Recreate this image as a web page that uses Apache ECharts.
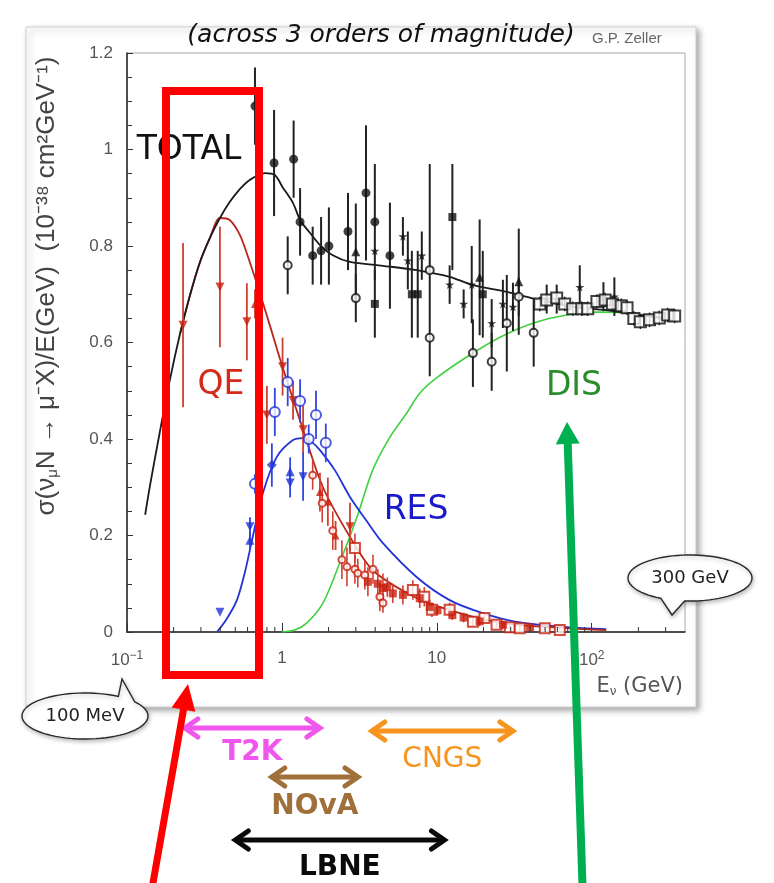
<!DOCTYPE html>
<html>
<head>
<meta charset="utf-8">
<script src="https://cdn.jsdelivr.net/npm/echarts@6/dist/echarts.min.js"></script>
<style>
  html, body { margin: 0; padding: 0; background: #ffffff; }
  #chart { width: 774px; height: 883px; }
</style>
</head>
<body>
<div id="chart"></div>
<script>
// ---- Model curves: neutrino energy E (GeV) and sigma/E (1e-38 cm^2/GeV) ----
const totalE = [0.131, 0.141, 0.163, 0.189, 0.22, 0.255, 0.296, 0.343, 0.398, 0.46, 0.535, 0.62, 0.776, 0.90, 1.01, 1.18, 1.31, 1.52, 1.76, 2.13, 2.75, 4.49, 7.4, 12.1, 17.1, 28.3, 46.2, 75.4, 124, 206, 285];
const totalS = [0.243, 0.305, 0.415, 0.522, 0.618, 0.698, 0.767, 0.817, 0.858, 0.891, 0.918, 0.937, 0.951, 0.947, 0.922, 0.889, 0.854, 0.827, 0.802, 0.781, 0.767, 0.759, 0.75, 0.736, 0.719, 0.705, 0.688, 0.674, 0.667, 0.657, 0.651];

const qeE = [0.22, 0.255, 0.296, 0.343, 0.398, 0.46, 0.535, 0.62, 0.72, 0.835, 1.01, 1.37, 1.84, 2.75, 3.86, 6.4, 10.4, 25.6, 69, 124];
const qeS = [0.618, 0.698, 0.767, 0.817, 0.858, 0.854, 0.823, 0.767, 0.703, 0.636, 0.549, 0.419, 0.30, 0.197, 0.128, 0.081, 0.052, 0.019, 0.008, 0.004];

const resE = [0.381, 0.44, 0.512, 0.577, 0.641, 0.754, 0.927, 1.18, 1.37, 1.58, 1.76, 2.19, 2.75, 3.49, 4.49, 7.4, 12.1, 19.8, 32.6, 69, 124];
const resS = [0.0, 0.027, 0.066, 0.124, 0.19, 0.288, 0.363, 0.398, 0.402, 0.392, 0.377, 0.336, 0.28, 0.232, 0.184, 0.114, 0.066, 0.039, 0.021, 0.010, 0.006];

const disE = [1.0, 1.21, 1.45, 1.84, 2.36, 3.05, 3.86, 4.98, 6.4, 7.76, 10, 15.6, 25.6, 41.7, 69, 113, 184, 284];
const disS = [0.0, 0.004, 0.019, 0.06, 0.143, 0.238, 0.336, 0.404, 0.454, 0.495, 0.527, 0.57, 0.611, 0.64, 0.657, 0.663, 0.661, 0.647];

// ---- Measurements: [E, sigma/E, error] ----
const totalFilledCircles = [[0.67, 1.09, 0.08], [0.89, 0.972, 0.11], [1.19, 0.98, 0.08], [1.31, 0.85, 0.07], [1.58, 0.78, 0.06], [1.79, 0.79, 0.07], [2.01, 0.80, 0.08], [2.67, 0.83, 0.08], [3.49, 0.91, 0.14], [3.98, 0.85, 0.12], [4.98, 0.78, 0.11]];
const totalOpenCircles = [[1.09, 0.76, 0.06], [3.0, 0.692, 0.05], [9.0, 0.75, 0.22], [9.0, 0.61, 0], [17.1, 0.578, 0.07], [22.6, 0.56, 0.06], [28.3, 0.64, 0.1], [33.8, 0.695, 0.04], [42.2, 0.62, 0.07]];
const totalStars = [[3.98, 0.79, 0], [6.04, 0.82, 0.04], [6.5, 0.77, 0.06], [8.0, 0.78, 0.05], [12.1, 0.72, 0.04], [14.9, 0.68, 0.03], [16.8, 0.72, 0.08], [22.6, 0.64, 0.05], [26.7, 0.68, 0.05], [31.0, 0.674, 0.05], [51.2, 0.69, 0.03], [59.4, 0.69, 0.03], [83.7, 0.715, 0.045], [119, 0.695, 0.03], [140, 0.695, 0.04]];
const totalSquares = [[3.98, 0.68, 0.07], [6.9, 0.70, 0.09], [7.53, 0.70, 0.09], [12.6, 0.86, 0.11], [19.8, 0.70, 0.09]];
const totalTriangles = [[3.0, 0.788, 0.1], [18.9, 0.735, 0.12], [33.8, 0.726, 0.11]];
const totalOpenSquares = [[46.2, 0.68, 0.015], [51.2, 0.688, 0.015], [59.4, 0.692, 0.015], [66.9, 0.68, 0.015], [75.4, 0.67, 0.015], [86.2, 0.67, 0.015], [94.2, 0.67, 0.015], [108, 0.685, 0.015], [122, 0.688, 0.015], [136, 0.68, 0.015], [155, 0.676, 0.015], [169, 0.672, 0.015], [187, 0.65, 0.015], [206, 0.643, 0.015], [236, 0.647, 0.015], [273, 0.651, 0.015], [309, 0.657, 0.015], [343, 0.655, 0.015]];

const qeTrianglesDown = [[0.23, 0.636, 0.17], [0.398, 0.715, 0.125], [0.594, 0.643, 0.08], [0.80, 0.45, 0.06], [1.01, 0.55, 0.06], [1.18, 0.48, 0.04], [1.37, 0.419, 0.05], [2.75, 0.218, 0.05]];
const qeTrianglesUp = [[0.67, 0.68, 0.03], [1.76, 0.29, 0.04], [1.98, 0.27, 0.05], [2.22, 0.20, 0.03]];
const qeOpenCircles = [[1.58, 0.325, 0.03], [1.82, 0.267, 0.04], [2.13, 0.21, 0.04], [2.44, 0.15, 0.04], [2.63, 0.135, 0.04], [2.96, 0.13, 0.03], [3.09, 0.122, 0.03], [3.43, 0.118, 0.03], [3.87, 0.13, 0.03], [4.29, 0.073, 0.03], [4.49, 0.06, 0.02]];
const qeOpenSquares = [[2.96, 0.174, 0.03], [7.0, 0.087, 0.02], [8.3, 0.073, 0.02], [9.3, 0.046, 0.015], [12.1, 0.046, 0.015], [17.1, 0.021, 0.01], [20.3, 0.029, 0.01], [24.3, 0.015, 0.008], [29.6, 0.01, 0.006], [34.3, 0.008, 0.005], [49.8, 0.008, 0.005], [62.2, 0.004, 0.004]];
const qeSquares = [[3.59, 0.104, 0.03], [4.16, 0.10, 0.03], [4.49, 0.091, 0.03], [4.79, 0.093, 0.02], [5.2, 0.08, 0.02], [6.04, 0.077, 0.02], [7.76, 0.07, 0.02], [9.0, 0.052, 0.015], [10.1, 0.045, 0.01], [12.6, 0.035, 0.01], [14.9, 0.03, 0.01], [18.9, 0.022, 0.01], [26.7, 0.015, 0.008], [40, 0.01, 0.005]];

const resTrianglesDown = [[0.398, 0.041, 0], [0.622, 0.218, 0.02], [1.13, 0.309, 0.03], [1.37, 0.322, 0.05]];
const resTrianglesUp = [[0.622, 0.19, 0.02], [1.13, 0.332, 0.03]];
const resOpenCircles = [[0.67, 0.307, 0.02], [0.90, 0.456, 0.05], [1.09, 0.518, 0.05], [1.31, 0.479, 0.045], [1.49, 0.40, 0.03], [1.66, 0.45, 0.05], [1.92, 0.392, 0.04]];
const resDiamonds = [[0.861, 0.346, 0.045]];

// ---- Axes ----
const yTicks = [0, 0.2, 0.4, 0.6, 0.8, 1.0, 1.2];
const xMinorTicks = [0.2, 0.3, 0.4, 0.5, 0.6, 0.7, 0.8, 0.9, 2, 3, 4, 5, 6, 7, 8, 9, 20, 30, 40, 50, 60, 70, 80, 90, 200, 300];

// ---- Beam energy ranges (GeV) ----
const beams = ['T2K', 'CNGS', 'NOvA', 'LBNE'];
const beamLow = [0.236, 3.8, 0.86, 0.5];
const beamHigh = [1.76, 31, 3.1, 11.2];

const BLACK = '#1a1a1a', RED = '#c8200f', BLUE = '#2233d6', GREEN = '#3fd13f';
const STAR = 'path://M50,0 L61,35 98,35 68,57 79,91 50,70 21,91 32,57 2,35 39,35Z';

function zip(xs, ys) { return xs.map((x, i) => [x, ys[i]]); }

function curve(name, xs, ys, color, width) {
  return {
    name, type: 'line', data: zip(xs, ys), smooth: 0.3, symbol: 'none', z: 2,
    lineStyle: { color, width }, silent: true
  };
}

function errorBars(name, data, color, width) {
  return {
    name: name + ' err', type: 'custom', z: 3, silent: true,
    data: data.filter(d => d[2] > 0),
    encode: { x: 0, y: 1 },
    renderItem(params, api) {
      const e = api.value(0), s = api.value(1), d = api.value(2);
      const a = api.coord([e, Math.max(s - d, 0)]);
      const b = api.coord([e, s + d]);
      return { type: 'line', shape: { x1: a[0], y1: a[1], x2: b[0], y2: b[1] }, style: { stroke: color, lineWidth: width } };
    }
  };
}

function points(name, data, symbol, size, color, opts) {
  opts = opts || {};
  const empty = symbol.indexOf('empty') === 0;
  return {
    name, type: 'scatter', z: 4, silent: true,
    data: data.map(d => [d[0], d[1]]),
    symbol, symbolSize: size, symbolRotate: opts.rotate || 0,
    itemStyle: empty ? { color, borderColor: color, borderWidth: opts.bw || 1.4 } : { color, borderWidth: 0 }
  };
}

const series = [
  curve('DIS', disE, disS, GREEN, 1.6),
  curve('RES', resE, resS, BLUE, 1.8),
  curve('QE', qeE, qeS, '#b8261c', 1.8),
  curve('TOTAL', totalE, totalS, BLACK, 1.8),

  errorBars('tfc', totalFilledCircles, '#222', 2),
  errorBars('toc', totalOpenCircles, '#222', 2),
  errorBars('tst', totalStars, '#222', 2),
  errorBars('tsq', totalSquares, '#222', 2),
  errorBars('ttr', totalTriangles, '#222', 2),
  errorBars('tos', totalOpenSquares, '#222', 1.5),
  errorBars('qtd', qeTrianglesDown, '#d0402e', 1.8),
  errorBars('qtu', qeTrianglesUp, '#d0402e', 1.8),
  errorBars('qoc', qeOpenCircles, '#d0402e', 1.6),
  errorBars('qos', qeOpenSquares, '#d0402e', 1.6),
  errorBars('qsq', qeSquares, '#d0402e', 1.6),
  errorBars('rtd', resTrianglesDown, '#3048e0', 1.8),
  errorBars('rtu', resTrianglesUp, '#3048e0', 1.8),
  errorBars('roc', resOpenCircles, '#3048e0', 1.8),
  errorBars('rdi', resDiamonds, '#3048e0', 1.8),

  points('tfc', totalFilledCircles, 'circle', 9, '#111'),
  points('toc', totalOpenCircles, 'emptyCircle', 8, '#111'),
  points('tst', totalStars, STAR, 9, '#111'),
  points('tsq', totalSquares, 'rect', 8, '#111'),
  points('ttr', totalTriangles, 'triangle', 9, '#111'),
  points('tos', totalOpenSquares, 'emptyRect', 11, '#111'),
  points('qtd', qeTrianglesDown, 'triangle', 9, RED, { rotate: 180 }),
  points('qtu', qeTrianglesUp, 'triangle', 8, RED),
  points('qoc', qeOpenCircles, 'emptyCircle', 7, RED),
  points('qos', qeOpenSquares, 'emptyRect', 10, RED, { bw: 1.6 }),
  points('qsq', qeSquares, 'rect', 8, RED),
  points('rtd', resTrianglesDown, 'triangle', 9, BLUE, { rotate: 180 }),
  points('rtu', resTrianglesUp, 'triangle', 9, BLUE),
  points('roc', resOpenCircles, 'emptyCircle', 10, BLUE, { bw: 1.6 }),
  points('rdi', resDiamonds, 'diamond', 10, BLUE),

  {
    name: 'minor ticks', type: 'custom', z: 5, silent: true,
    data: xMinorTicks.map(v => [v, 0]),
    encode: { x: 0, y: 1 },
    renderItem(params, api) {
      const p = api.coord([api.value(0), 0]);
      return { type: 'line', shape: { x1: p[0], y1: p[1], x2: p[0], y2: p[1] - 5 }, style: { stroke: '#333', lineWidth: 1 } };
    }
  }
];

const supRich = { sup: { fontSize: 12, verticalAlign: 'top', padding: [0, 0, 8, 0], color: '#555', fontFamily: 'Liberation Sans' } };

const option = {
  animation: false,
  backgroundColor: '#ffffff',
  grid: { left: 127, right: 89, top: 53, bottom: 251, show: true, borderColor: '#a8a8a8', borderWidth: 1 },
  xAxis: {
    type: 'log', logBase: 10, min: 0.1, max: 400,
    axisLine: { onZero: false, lineStyle: { color: '#222', width: 1.5 } },
    axisTick: { inside: true, length: 9, lineStyle: { color: '#333' } },
    splitLine: { show: false },
    axisLabel: {
      margin: 18, fontSize: 17, color: '#555', fontFamily: 'Liberation Sans', showMaxLabel: false,
      formatter: v => {
        const p = Math.round(Math.log10(v));
        if (p === 0) return '1';
        if (p === 1) return '10';
        return '10{sup|' + (p < 0 ? '−' : '') + Math.abs(p) + '}';
      },
      rich: supRich
    }
  },
  yAxis: {
    type: 'value', min: yTicks[0], max: yTicks[yTicks.length - 1], interval: 0.2,
    axisLine: { show: true, lineStyle: { color: '#222', width: 1.5 } },
    axisTick: { show: true, inside: true, length: 6, lineStyle: { color: '#333' } },
    minorTick: { show: true, splitNumber: 4, length: 5, lineStyle: { color: '#333' } },
    splitLine: { show: false },
    axisLabel: { margin: 14, fontSize: 17, color: '#555', fontFamily: 'Liberation Sans', formatter: v => String(Math.round(v * 10) / 10) }
  },
  series
};

const chart = echarts.init(document.getElementById('chart'), null, { renderer: 'canvas' });
chart.setOption(option);

// ---- Annotations ----
function arrowPoints(x1, y1, x2, y2, w, L, H) {
  const dx = x2 - x1, dy = y2 - y1, len = Math.hypot(dx, dy);
  const ux = dx / len, uy = dy / len, nx = -uy, ny = ux;
  const bx = x2 - ux * L, by = y2 - uy * L;
  return [
    [x1 + nx * w / 2, y1 + ny * w / 2], [bx + nx * w / 2, by + ny * w / 2], [bx + nx * H, by + ny * H],
    [x2, y2], [bx - nx * H, by - ny * H], [bx - nx * w / 2, by - ny * w / 2], [x1 - nx * w / 2, y1 - ny * w / 2]
  ];
}

// speech bubble: ellipse outline with a tail between angles a1..a2 (degrees)
function bubble(cx, cy, rx, ry, a1, a2, tip, text) {
  const pts = [];
  const steps = 72;
  for (let i = 0; i <= steps; i++) {
    const a = (a2 + (360 - (a2 - a1)) * i / steps) * Math.PI / 180;
    pts.push([cx + rx * Math.cos(a), cy + ry * Math.sin(a)]);
  }
  pts.push(tip);
  return [
    { type: 'polygon', z: 50, shape: { points: pts }, style: { fill: '#fff', stroke: '#2a2a2a', lineWidth: 1.4, shadowBlur: 4, shadowColor: 'rgba(0,0,0,0.25)', shadowOffsetX: 1, shadowOffsetY: 2 } },
    { type: 'text', z: 51, style: { x: cx, y: cy, text, align: 'center', verticalAlign: 'middle', fontSize: 18, fill: '#222', fontFamily: 'DejaVu Sans' } }
  ];
}

function doubleArrow(x1, x2, y, color) {
  const h = 9, L = 13;
  return [
    { type: 'line', z: 40, shape: { x1: x1 + 2, y1: y, x2: x2 - 2, y2: y }, style: { stroke: color, lineWidth: 5, lineCap: 'round' } },
    { type: 'polyline', z: 40, shape: { points: [[x1 + L, y - h], [x1, y], [x1 + L, y + h]] }, style: { stroke: color, lineWidth: 5, lineJoin: 'miter', lineCap: 'round', fill: null } },
    { type: 'polyline', z: 40, shape: { points: [[x2 - L, y - h], [x2, y], [x2 - L, y + h]] }, style: { stroke: color, lineWidth: 5, lineJoin: 'miter', lineCap: 'round', fill: null } }
  ];
}

const px = e => chart.convertToPixel({ gridIndex: 0 }, [e, 0])[0];

const beamStyle = {
  T2K:  { color: '#f055ee', y: 728, ty: 753, bold: true },
  CNGS: { color: '#f7941d', y: 731, ty: 760, bold: false },
  NOvA: { color: '#a0703a', y: 777, ty: 807, bold: true },
  LBNE: { color: '#0a0a0a', y: 840, ty: 868, bold: true }
};

const graphics = [
  // frame of the pasted plot
  { type: 'rect', z: -10, shape: { x: 26, y: 27, width: 670, height: 680 }, style: { fill: '#fff', stroke: '#cfcfcf', lineWidth: 1, shadowBlur: 6, shadowColor: 'rgba(0,0,0,0.35)', shadowOffsetX: 3, shadowOffsetY: 3 } },
  { type: 'text', z: 30, style: { x: 381, y: 35, text: '(across 3 orders of magnitude)', align: 'center', verticalAlign: 'middle', fontSize: 25, fontStyle: 'italic', fill: '#111', fontFamily: 'DejaVu Sans' } },
  { type: 'text', z: 30, style: { x: 592, y: 39, text: 'G.P. Zeller', align: 'left', verticalAlign: 'middle', fontSize: 15, fill: '#666', fontFamily: 'Liberation Sans' } },
  // vertical axis title
  { type: 'text', z: 30, x: 47, y: 286, rotation: Math.PI / 2,
    style: { x: 0, y: 0, text: 'σ(ν{s|μ}N → μ⁻X)/E(GeV)  (10⁻³⁸ cm²GeV⁻¹)', align: 'center', verticalAlign: 'middle', fontSize: 26, fill: '#444', fontFamily: 'Liberation Sans',
      rich: { s: { fontSize: 15, verticalAlign: 'bottom', padding: [12, 0, 0, 0], fill: '#444', fontFamily: 'Liberation Sans' } } } },
  { type: 'text', z: 30, style: { x: 189, y: 150, text: 'TOTAL', align: 'center', verticalAlign: 'middle', fontSize: 33, fill: '#111', fontFamily: 'DejaVu Sans' } },
  { type: 'text', z: 30, style: { x: 221, y: 385, text: 'QE', align: 'center', verticalAlign: 'middle', fontSize: 33, fill: '#d42a1a', fontFamily: 'DejaVu Sans' } },
  { type: 'text', z: 30, style: { x: 416, y: 510, text: 'RES', align: 'center', verticalAlign: 'middle', fontSize: 33, fill: '#1a1acc', fontFamily: 'DejaVu Sans' } },
  { type: 'text', z: 30, style: { x: 574, y: 386, text: 'DIS', align: 'center', verticalAlign: 'middle', fontSize: 33, fill: '#2a8c2a', fontFamily: 'DejaVu Sans' } },
  { type: 'text', z: 30, style: { x: 683, y: 687, text: 'E{s|ν} (GeV)', align: 'right', verticalAlign: 'middle', fontSize: 21, fill: '#555', fontFamily: 'DejaVu Sans', rich: { s: { fontSize: 12, verticalAlign: 'bottom', fill: '#555', fontFamily: 'DejaVu Sans' } } } },
  // highlight box around the sub-GeV region
  { type: 'rect', z: 60, shape: { x: 166, y: 91, width: 93, height: 584 }, style: { fill: null, stroke: '#ff0000', lineWidth: 8 } },
  { type: 'polygon', z: 60, shape: { points: arrowPoints(150, 900, 188, 684, 7, 26, 12) }, style: { fill: '#ff0000' } },
  { type: 'polygon', z: 60, shape: { points: arrowPoints(583, 900, 567, 422, 8, 22, 12) }, style: { fill: '#00b050' } }
];

graphics.push(...bubble(85, 716, 63, 23, -58, -38, [122, 679], '100 MeV'));
graphics.push(...bubble(690, 578, 62, 23, 95, 118, [672, 615], '300 GeV'));

beams.forEach((b, i) => {
  const st = beamStyle[b];
  const x1 = px(beamLow[i]), x2 = px(beamHigh[i]);
  graphics.push(...doubleArrow(x1, x2, st.y, st.color));
  graphics.push({ type: 'text', z: 40, style: { x: (x1 + x2) / 2, y: st.ty, text: b, align: 'center', verticalAlign: 'middle', fontSize: 28, fontWeight: st.bold ? 'bold' : 'normal', fill: st.color, fontFamily: 'DejaVu Sans' } });
});

chart.setOption({ graphic: graphics });
</script>
</body>
</html>
